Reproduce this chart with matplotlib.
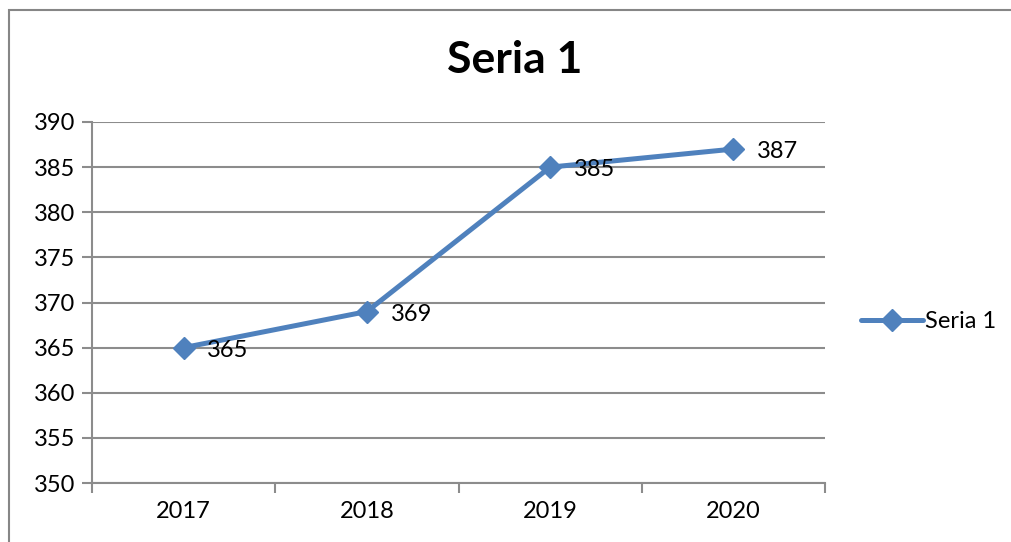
import matplotlib
matplotlib.use("Agg")
import matplotlib.pyplot as plt
from matplotlib.patches import Rectangle

categories = ["2017", "2018", "2019", "2020"]
values = [365, 369, 385, 387]
yticks = [350, 355, 360, 365, 370, 375, 380, 385, 390]
series_name = "Seria 1"

W, H = 1011, 542
fig = plt.figure(figsize=(W / 100, H / 100), dpi=100)
plt.rcParams['font.family'] = ['Lato', 'DejaVu Sans']

# outer chart border
fig.patches.append(Rectangle((9 / W, -0.05), 1.2, 1 - 10 / H + 0.05, transform=fig.transFigure,
                             fill=False, edgecolor='#868686', linewidth=1.5))

ax = fig.add_axes([92 / W, 1 - 483 / H, (825 - 92) / W, (483 - 122) / H])
color = '#4F81BD'
grid_c = '#8C8C8C'
x = list(range(len(categories)))
ax.plot(x, values, color=color, linewidth=3.6, marker='D', markersize=11.5,
        label=series_name, solid_capstyle='round')
for xi, v in zip(x, values):
    ax.annotate(str(v), (xi, v), xytext=(17, -2), textcoords='offset points',
                ha='left', va='center', fontsize=17, color='black')

ax.set_xlim(-0.5, len(categories) - 0.5)
ax.set_ylim(350, 390)
ax.set_yticks(yticks)
ax.set_yticklabels([str(t) for t in yticks], fontsize=17)
ax.set_xticks(x)
ax.set_xticklabels(categories, fontsize=17)
ax.set_xticks([i - 0.5 for i in range(len(categories) + 1)], minor=True)
ax.tick_params(axis='x', which='major', length=0, pad=13)
ax.tick_params(axis='x', which='minor', length=7, color=grid_c, width=1.5, direction='out')
ax.tick_params(axis='y', length=7, color=grid_c, width=1.5, direction='out', pad=5)
ax.yaxis.grid(True, color=grid_c, linewidth=1.5)
ax.set_axisbelow(True)
for s in ['top', 'right']:
    ax.spines[s].set_visible(False)
for s in ['left', 'bottom']:
    ax.spines[s].set_color(grid_c)
    ax.spines[s].set_linewidth(1.5)

fig.text(515 / W, 1 - 60 / H, series_name, ha='center', va='center', fontsize=32,
         fontweight='bold')

leg = ax.legend(loc='center left', bbox_to_anchor=(852 / W, 1 - 322 / H),
                bbox_transform=fig.transFigure, frameon=False, fontsize=17,
                handlelength=2.6, handletextpad=0.1, borderaxespad=0)

fig.savefig("out.png", dpi=100)
